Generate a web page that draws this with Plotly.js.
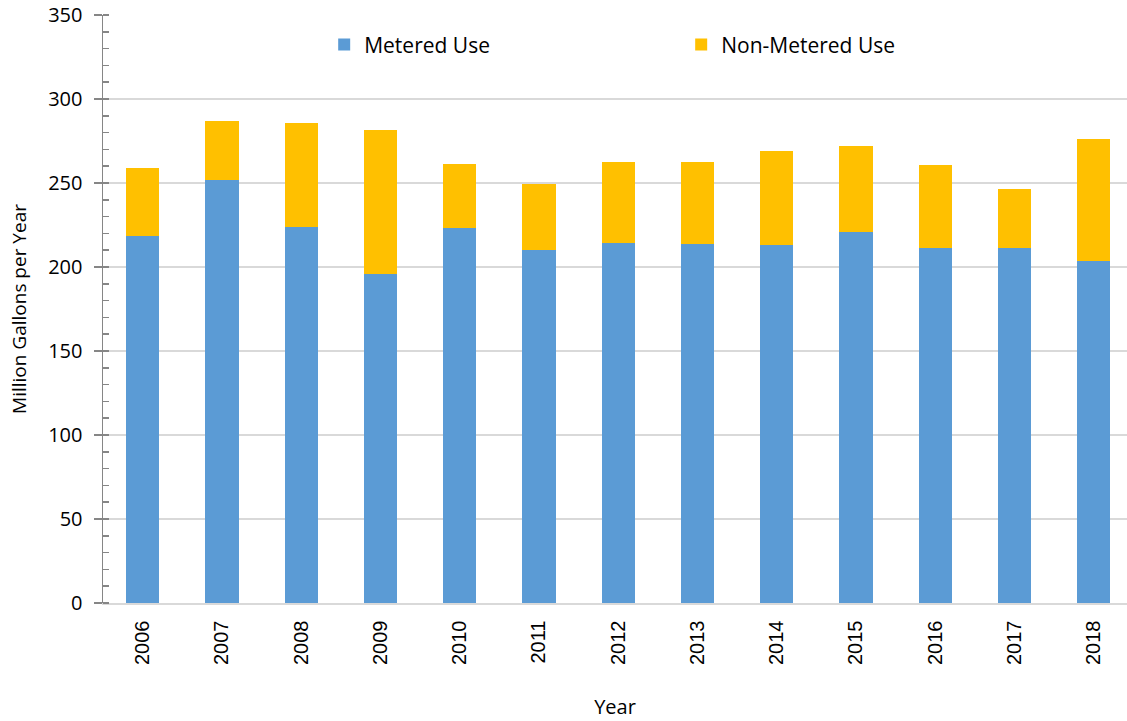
<!DOCTYPE html>
<html>
<head>
<meta charset="utf-8">
<script src="https://cdn.plot.ly/plotly-3.0.1.min.js"></script>
<style>
  html, body { margin: 0; padding: 0; background: #fff; overflow: hidden; }
  #chart { width: 1127px; height: 721px; }
</style>
</head>
<body>
<div id="chart"></div>
<script>
// Annual water use, million gallons per year
const years = ['2006', '2007', '2008', '2009', '2010', '2011', '2012',
               '2013', '2014', '2015', '2016', '2017', '2018'];
const meteredUse = [218.2, 251.8, 224.0, 195.6, 223.0, 210.3, 214.0,
                    213.6, 213.3, 221.0, 211.1, 211.1, 203.6];
const totalUse = [258.7, 286.7, 285.9, 281.7, 261.3, 249.6, 262.7,
                  262.7, 269.2, 272.0, 260.9, 246.6, 276.4];
const nonMeteredUse = totalUse.map((t, i) => +(t - meteredUse[i]).toFixed(1));

const uiFont = 'Open Sans, Noto Sans, sans-serif';
const axisGray = '#868686';

const traces = [
  {
    type: 'bar',
    name: 'Metered Use',
    x: years,
    y: meteredUse,
    width: 0.42,
    marker: { color: '#5b9bd5' }
  },
  {
    type: 'bar',
    name: 'Non-Metered Use',
    x: years,
    y: nonMeteredUse,
    width: 0.42,
    marker: { color: '#ffc000' }
  }
];

const layout = {
  width: 1127,
  height: 721,
  barmode: 'stack',
  paper_bgcolor: '#ffffff',
  plot_bgcolor: '#ffffff',
  margin: { l: 103, r: 0, t: 15, b: 118, autoexpand: false },
  showlegend: true,
  legend: {
    orientation: 'h',
    x: 0.216,
    xanchor: 'left',
    y: 0.984,
    yanchor: 'top',
    entrywidth: 312,
    entrywidthmode: 'pixels',
    bgcolor: 'rgba(0,0,0,0)',
    font: { family: uiFont, size: 21, color: '#000' },
    traceorder: 'normal'
  },
  xaxis: {
    type: 'category',
    range: [-0.5, 12.42],
    automargin: false,
    tickangle: -90,
    ticks: '',
    ticklabelstandoff: 8,
    showgrid: false,
    showline: true,
    linecolor: '#d9d9d9',
    linewidth: 1.5,
    tickfont: { family: 'Liberation Sans, Arial, sans-serif', size: 20, color: '#000' },
    title: {
      text: 'Year',
      font: { family: uiFont, size: 20, color: '#000' },
      standoff: 36
    },
    fixedrange: true
  },
  yaxis: {
    range: [0, 350],
    automargin: false,
    dtick: 50,
    tick0: 0,
    ticks: 'outside',
    ticklen: 8,
    tickcolor: axisGray,
    tickwidth: 1.5,
    ticklabelstandoff: 7,
    showline: true,
    linecolor: axisGray,
    linewidth: 1.5,
    showgrid: true,
    gridcolor: '#d9d9d9',
    gridwidth: 1.5,
    zeroline: false,
    minor: {
      dtick: 10,
      ticks: 'inside',
      ticklen: 6,
      tickcolor: axisGray,
      tickwidth: 1.5,
      showgrid: false
    },
    tickfont: { family: uiFont, size: 20, color: '#000' },
    title: {
      text: 'Million Gallons per Year',
      font: { family: uiFont, size: 19, color: '#000' },
      standoff: 16
    },
    fixedrange: true
  },
  // inner half of the major ticks, drawn on a twin axis
  yaxis2: {
    overlaying: 'y',
    side: 'left',
    anchor: 'x',
    range: [0, 350],
    automargin: false,
    dtick: 50,
    tick0: 0,
    ticks: 'inside',
    ticklen: 8,
    tickcolor: axisGray,
    tickwidth: 1.5,
    showticklabels: false,
    showgrid: false,
    showline: false,
    zeroline: false,
    fixedrange: true
  }
};

Plotly.newPlot('chart', traces, layout, { displayModeBar: false, staticPlot: true });
</script>
</body>
</html>
